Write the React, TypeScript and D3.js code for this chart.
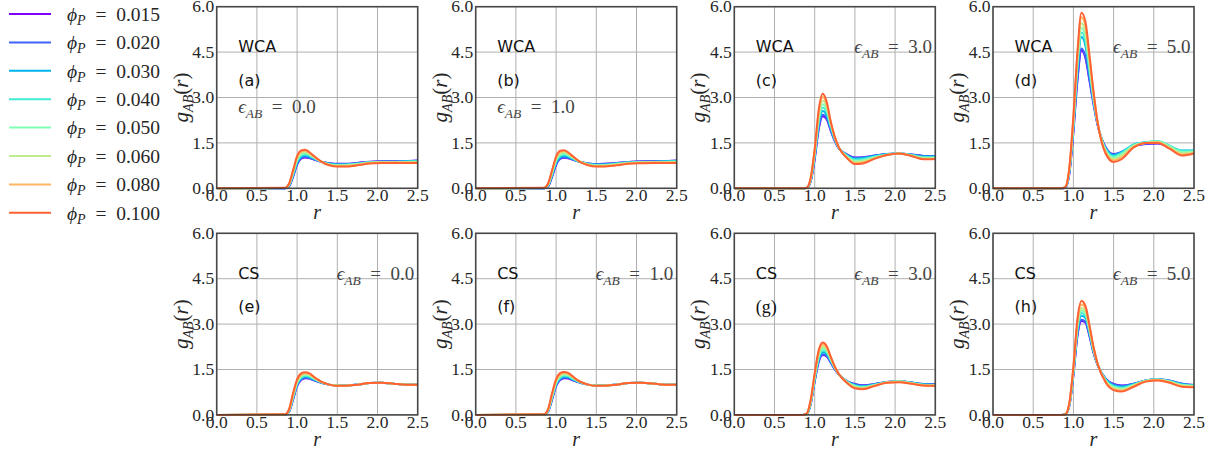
import React from 'react';
import * as d3 from 'd3';

// r grid shared by all series
const R = [0, 0.85, 0.9, 0.95, 1.0, 1.05, 1.1, 1.15, 1.2, 1.25, 1.3, 1.4, 1.5, 1.6, 1.75, 1.9, 2.05, 2.2, 2.35, 2.5];

const PHI_LABELS = ['0.015', '0.020', '0.030', '0.040', '0.050', '0.060', '0.080', '0.100'];
const X_TICKS = [0, 0.5, 1.0, 1.5, 2.0, 2.5];
const Y_TICKS = [0, 1.5, 3.0, 4.5, 6.0];

// (a) WCA, eps = 0.0
const PANEL_A = [
  [0, 0, 0.06, 0.38, 0.78, 0.98, 1.02, 1.0, 0.96, 0.92, 0.88, 0.83, 0.81, 0.81, 0.84, 0.88, 0.89, 0.89, 0.9, 0.92],
  [0, 0, 0.07, 0.4, 0.8, 0.99, 1.04, 1.01, 0.97, 0.92, 0.88, 0.83, 0.8, 0.8, 0.83, 0.87, 0.89, 0.89, 0.9, 0.91],
  [0, 0, 0.08, 0.43, 0.85, 1.04, 1.08, 1.05, 0.99, 0.93, 0.88, 0.81, 0.79, 0.79, 0.82, 0.86, 0.88, 0.88, 0.89, 0.9],
  [0, 0.01, 0.1, 0.47, 0.89, 1.08, 1.12, 1.08, 1.01, 0.94, 0.88, 0.8, 0.77, 0.78, 0.81, 0.86, 0.87, 0.87, 0.88, 0.89],
  [0, 0.01, 0.11, 0.5, 0.93, 1.12, 1.16, 1.11, 1.03, 0.95, 0.88, 0.79, 0.76, 0.76, 0.8, 0.85, 0.87, 0.86, 0.87, 0.88],
  [0, 0.01, 0.12, 0.53, 0.97, 1.16, 1.2, 1.14, 1.05, 0.96, 0.88, 0.78, 0.75, 0.75, 0.79, 0.84, 0.86, 0.86, 0.86, 0.87],
  [0, 0.01, 0.14, 0.57, 1.02, 1.21, 1.24, 1.17, 1.07, 0.97, 0.88, 0.77, 0.73, 0.73, 0.77, 0.83, 0.85, 0.85, 0.85, 0.85],
  [0, 0.02, 0.16, 0.6, 1.06, 1.25, 1.27, 1.2, 1.09, 0.98, 0.88, 0.76, 0.72, 0.72, 0.76, 0.82, 0.84, 0.84, 0.84, 0.84],
];

// (b) WCA, eps = 1.0
const PANEL_B = [
  [0, 0, 0.06, 0.38, 0.77, 0.97, 1.01, 0.99, 0.95, 0.91, 0.87, 0.82, 0.8, 0.81, 0.84, 0.87, 0.89, 0.89, 0.9, 0.92],
  [0, 0, 0.07, 0.4, 0.79, 0.98, 1.03, 1.0, 0.96, 0.91, 0.87, 0.82, 0.8, 0.8, 0.83, 0.87, 0.88, 0.89, 0.9, 0.91],
  [0, 0, 0.08, 0.43, 0.84, 1.03, 1.07, 1.04, 0.98, 0.92, 0.87, 0.81, 0.78, 0.79, 0.82, 0.86, 0.88, 0.88, 0.89, 0.9],
  [0, 0.01, 0.1, 0.47, 0.88, 1.07, 1.11, 1.07, 1.0, 0.93, 0.87, 0.8, 0.77, 0.77, 0.81, 0.85, 0.87, 0.87, 0.88, 0.89],
  [0, 0.01, 0.11, 0.5, 0.92, 1.11, 1.15, 1.1, 1.02, 0.94, 0.87, 0.79, 0.76, 0.76, 0.8, 0.84, 0.86, 0.86, 0.87, 0.88],
  [0, 0.01, 0.12, 0.53, 0.96, 1.15, 1.19, 1.13, 1.04, 0.95, 0.87, 0.78, 0.74, 0.75, 0.79, 0.83, 0.85, 0.86, 0.86, 0.87],
  [0, 0.01, 0.14, 0.57, 1.01, 1.2, 1.23, 1.16, 1.06, 0.96, 0.87, 0.77, 0.73, 0.73, 0.77, 0.82, 0.84, 0.85, 0.85, 0.85],
  [0, 0.02, 0.16, 0.6, 1.05, 1.24, 1.26, 1.19, 1.08, 0.97, 0.87, 0.76, 0.72, 0.72, 0.76, 0.81, 0.83, 0.84, 0.84, 0.84],
];

// (c) WCA, eps = 3.0
const PANEL_C = [
  [0, 0, 0.01, 0.22, 0.95, 1.95, 2.38, 2.27, 1.9, 1.56, 1.32, 1.12, 1.02, 1.03, 1.08, 1.13, 1.15, 1.12, 1.07, 1.07],
  [0, 0, 0.01, 0.24, 1.0, 2.0, 2.43, 2.31, 1.92, 1.57, 1.32, 1.11, 1.01, 1.02, 1.08, 1.13, 1.15, 1.12, 1.07, 1.06],
  [0, 0, 0.01, 0.26, 1.05, 2.1, 2.55, 2.4, 1.98, 1.6, 1.33, 1.1, 0.98, 1.0, 1.07, 1.13, 1.15, 1.11, 1.05, 1.05],
  [0, 0, 0.01, 0.27, 1.1, 2.2, 2.67, 2.5, 2.04, 1.63, 1.34, 1.08, 0.95, 0.97, 1.05, 1.12, 1.15, 1.1, 1.03, 1.03],
  [0, 0, 0.02, 0.29, 1.15, 2.3, 2.78, 2.59, 2.09, 1.65, 1.35, 1.06, 0.91, 0.93, 1.03, 1.11, 1.15, 1.09, 1.01, 1.01],
  [0, 0, 0.02, 0.31, 1.2, 2.4, 2.89, 2.68, 2.13, 1.67, 1.35, 1.04, 0.87, 0.89, 1.01, 1.1, 1.15, 1.08, 0.99, 0.99],
  [0, 0, 0.02, 0.33, 1.25, 2.5, 3.02, 2.77, 2.17, 1.69, 1.35, 1.02, 0.83, 0.85, 0.99, 1.1, 1.15, 1.08, 0.97, 0.98],
  [0, 0, 0.02, 0.35, 1.3, 2.6, 3.12, 2.85, 2.2, 1.7, 1.35, 1.0, 0.8, 0.82, 0.98, 1.1, 1.15, 1.07, 0.96, 0.97],
];

// (d) WCA, eps = 5.0
const PANEL_D = [
  [0, 0, 0.02, 0.48, 1.85, 3.55, 4.55, 4.3, 3.55, 2.78, 2.1, 1.36, 1.13, 1.2, 1.4, 1.46, 1.48, 1.35, 1.22, 1.22],
  [0, 0, 0.02, 0.5, 1.9, 3.6, 4.62, 4.35, 3.6, 2.8, 2.12, 1.36, 1.12, 1.2, 1.41, 1.47, 1.49, 1.36, 1.22, 1.22],
  [0, 0, 0.03, 0.55, 2.0, 3.9, 5.0, 4.7, 3.8, 2.9, 2.15, 1.32, 1.1, 1.2, 1.45, 1.52, 1.55, 1.4, 1.25, 1.25],
  [0, 0, 0.03, 0.58, 2.08, 4.0, 5.15, 4.85, 3.9, 2.95, 2.17, 1.3, 1.06, 1.17, 1.44, 1.52, 1.56, 1.4, 1.24, 1.25],
  [0, 0, 0.04, 0.61, 2.15, 4.1, 5.3, 5.0, 4.0, 3.0, 2.18, 1.27, 1.01, 1.13, 1.42, 1.51, 1.55, 1.38, 1.2, 1.22],
  [0, 0, 0.04, 0.64, 2.22, 4.25, 5.45, 5.15, 4.15, 3.07, 2.19, 1.23, 0.97, 1.08, 1.4, 1.5, 1.53, 1.35, 1.16, 1.2],
  [0, 0, 0.05, 0.67, 2.3, 4.4, 5.65, 5.35, 4.3, 3.15, 2.2, 1.19, 0.92, 1.02, 1.37, 1.5, 1.52, 1.32, 1.12, 1.17],
  [0, 0, 0.05, 0.7, 2.4, 4.5, 5.8, 5.5, 4.4, 3.2, 2.2, 1.15, 0.87, 0.96, 1.35, 1.5, 1.5, 1.3, 1.08, 1.15],
];

// (e) CS, eps = 0.0
const PANEL_E = [
  [0, 0, 0.1, 0.5, 0.95, 1.15, 1.21, 1.2, 1.15, 1.1, 1.06, 1.0, 0.97, 0.97, 1.0, 1.05, 1.06, 1.03, 1.0, 1.0],
  [0, 0, 0.11, 0.52, 0.97, 1.17, 1.23, 1.21, 1.16, 1.11, 1.06, 1.0, 0.97, 0.97, 1.0, 1.05, 1.06, 1.03, 1.0, 1.0],
  [0, 0, 0.12, 0.55, 1.0, 1.2, 1.26, 1.24, 1.18, 1.12, 1.07, 1.0, 0.97, 0.97, 1.0, 1.05, 1.06, 1.03, 1.0, 1.0],
  [0, 0.01, 0.13, 0.58, 1.03, 1.23, 1.29, 1.27, 1.2, 1.13, 1.08, 1.0, 0.97, 0.97, 1.0, 1.05, 1.06, 1.03, 1.0, 1.0],
  [0, 0.01, 0.14, 0.61, 1.06, 1.26, 1.32, 1.3, 1.22, 1.15, 1.08, 1.0, 0.97, 0.96, 1.0, 1.05, 1.06, 1.03, 1.0, 1.0],
  [0, 0.01, 0.15, 0.64, 1.09, 1.29, 1.35, 1.32, 1.24, 1.16, 1.09, 1.0, 0.97, 0.96, 1.0, 1.05, 1.06, 1.03, 1.0, 1.0],
  [0, 0.01, 0.17, 0.68, 1.13, 1.33, 1.38, 1.35, 1.26, 1.17, 1.09, 1.0, 0.96, 0.96, 1.0, 1.05, 1.06, 1.03, 1.0, 1.0],
  [0, 0.02, 0.19, 0.72, 1.17, 1.37, 1.41, 1.38, 1.28, 1.18, 1.1, 1.0, 0.96, 0.96, 1.0, 1.05, 1.06, 1.03, 1.0, 1.0],
];

// (f) CS, eps = 1.0
const PANEL_F = [
  [0, 0, 0.1, 0.5, 0.95, 1.15, 1.21, 1.2, 1.15, 1.1, 1.06, 1.0, 0.97, 0.97, 1.0, 1.05, 1.06, 1.04, 1.0, 1.0],
  [0, 0, 0.11, 0.52, 0.97, 1.17, 1.23, 1.22, 1.16, 1.11, 1.06, 1.0, 0.97, 0.97, 1.0, 1.05, 1.06, 1.04, 1.0, 1.0],
  [0, 0, 0.12, 0.55, 1.0, 1.2, 1.26, 1.25, 1.18, 1.12, 1.07, 1.0, 0.97, 0.97, 1.0, 1.05, 1.06, 1.04, 1.0, 1.0],
  [0, 0.01, 0.13, 0.58, 1.03, 1.23, 1.29, 1.28, 1.2, 1.14, 1.08, 1.0, 0.97, 0.97, 1.0, 1.05, 1.06, 1.04, 1.0, 1.0],
  [0, 0.01, 0.14, 0.61, 1.06, 1.27, 1.33, 1.31, 1.23, 1.15, 1.08, 1.0, 0.97, 0.96, 1.0, 1.05, 1.06, 1.04, 1.0, 1.0],
  [0, 0.01, 0.15, 0.64, 1.1, 1.3, 1.36, 1.33, 1.25, 1.16, 1.09, 1.0, 0.96, 0.96, 1.0, 1.05, 1.06, 1.04, 1.0, 1.0],
  [0, 0.01, 0.17, 0.68, 1.14, 1.34, 1.39, 1.36, 1.27, 1.17, 1.09, 1.0, 0.96, 0.96, 1.0, 1.05, 1.06, 1.04, 1.0, 1.0],
  [0, 0.02, 0.19, 0.72, 1.18, 1.38, 1.42, 1.39, 1.29, 1.18, 1.1, 1.0, 0.96, 0.96, 1.0, 1.05, 1.06, 1.04, 1.0, 1.0],
];

// (g) CS, eps = 3.0
const PANEL_G = [
  [0, 0, 0.02, 0.35, 1.1, 1.75, 1.98, 1.93, 1.72, 1.5, 1.33, 1.12, 1.02, 0.98, 1.02, 1.09, 1.11, 1.07, 1.02, 1.01],
  [0, 0, 0.02, 0.36, 1.12, 1.77, 2.0, 1.95, 1.73, 1.51, 1.33, 1.12, 1.01, 0.97, 1.02, 1.09, 1.11, 1.07, 1.02, 1.01],
  [0, 0, 0.02, 0.38, 1.16, 1.83, 2.07, 2.01, 1.77, 1.53, 1.34, 1.11, 0.99, 0.95, 1.01, 1.09, 1.11, 1.07, 1.01, 1.0],
  [0, 0, 0.03, 0.4, 1.2, 1.89, 2.13, 2.06, 1.8, 1.55, 1.34, 1.1, 0.97, 0.93, 1.0, 1.08, 1.11, 1.06, 1.0, 0.99],
  [0, 0, 0.03, 0.42, 1.24, 1.95, 2.19, 2.11, 1.83, 1.56, 1.35, 1.09, 0.95, 0.91, 0.99, 1.08, 1.1, 1.05, 0.99, 0.98],
  [0, 0, 0.03, 0.44, 1.28, 2.01, 2.25, 2.16, 1.86, 1.57, 1.35, 1.08, 0.93, 0.89, 0.98, 1.07, 1.1, 1.05, 0.98, 0.97],
  [0, 0, 0.04, 0.47, 1.33, 2.08, 2.33, 2.22, 1.89, 1.58, 1.35, 1.07, 0.9, 0.87, 0.97, 1.07, 1.09, 1.04, 0.97, 0.96],
  [0, 0, 0.04, 0.5, 1.38, 2.14, 2.39, 2.27, 1.92, 1.6, 1.35, 1.06, 0.88, 0.85, 0.96, 1.06, 1.08, 1.03, 0.97, 0.96],
];

// (h) CS, eps = 5.0
const PANEL_H = [
  [0, 0, 0.01, 0.3, 1.3, 2.6, 3.1, 3.05, 2.6, 2.05, 1.65, 1.2, 1.02, 0.97, 1.03, 1.14, 1.18, 1.13, 1.03, 0.99],
  [0, 0, 0.01, 0.31, 1.32, 2.63, 3.14, 3.08, 2.62, 2.06, 1.65, 1.2, 1.01, 0.96, 1.03, 1.14, 1.18, 1.13, 1.03, 0.99],
  [0, 0, 0.01, 0.33, 1.38, 2.75, 3.28, 3.2, 2.7, 2.1, 1.67, 1.18, 0.98, 0.93, 1.02, 1.14, 1.18, 1.12, 1.02, 0.98],
  [0, 0, 0.01, 0.34, 1.42, 2.83, 3.37, 3.28, 2.75, 2.13, 1.68, 1.16, 0.95, 0.9, 1.0, 1.13, 1.17, 1.11, 1.0, 0.97],
  [0, 0, 0.02, 0.36, 1.46, 2.9, 3.45, 3.35, 2.8, 2.16, 1.69, 1.14, 0.92, 0.87, 0.99, 1.13, 1.17, 1.1, 0.99, 0.96],
  [0, 0, 0.02, 0.37, 1.5, 2.97, 3.53, 3.42, 2.85, 2.19, 1.7, 1.12, 0.89, 0.84, 0.97, 1.12, 1.16, 1.09, 0.97, 0.95],
  [0, 0, 0.02, 0.39, 1.55, 3.07, 3.65, 3.52, 2.91, 2.22, 1.7, 1.1, 0.85, 0.8, 0.95, 1.11, 1.15, 1.07, 0.95, 0.93],
  [0, 0, 0.02, 0.41, 1.6, 3.16, 3.76, 3.6, 2.96, 2.25, 1.7, 1.08, 0.82, 0.77, 0.93, 1.1, 1.14, 1.06, 0.93, 0.91],
];

const MODELS = ['WCA', 'WCA', 'WCA', 'WCA', 'CS', 'CS', 'CS', 'CS'];
const TAGS = ['(a)', '(b)', '(c)', '(d)', '(e)', '(f)', '(g)', '(h)'];
const EPS = ['0.0', '1.0', '3.0', '5.0', '0.0', '1.0', '3.0', '5.0'];
const PANEL_DATA = [PANEL_A, PANEL_B, PANEL_C, PANEL_D, PANEL_E, PANEL_F, PANEL_G, PANEL_H];

// layout
const LEFTS = [216.7, 475.7, 734.3, 993];
const TOPS = [6.7, 233.3];
const PW = 201;
const PH = 181.6;

const SERIF = '"Liberation Serif", "DejaVu Serif", serif';
const SANS = '"DejaVu Sans", sans-serif';

// matplotlib "rainbow" colormap
function rainbow(t: number): string {
  const c = (v: number) => Math.round(Math.max(0, Math.min(1, v)) * 255);
  const r = Math.abs(2 * t - 0.5);
  const g = Math.sin(Math.PI * t);
  const b = Math.cos((Math.PI * t) / 2);
  return `rgb(${c(r)},${c(g)},${c(b)})`;
}
const COLORS = PHI_LABELS.map((_, i) => rainbow(i / 8));

function Panel({ idx }: { idx: number }) {
  const col = idx % 4;
  const row = Math.floor(idx / 4);
  const left = LEFTS[col];
  const top = TOPS[row];
  const x = d3.scaleLinear().domain([0, 2.5]).range([left, left + PW]);
  const y = d3.scaleLinear().domain([0, 6]).range([top + PH, top]);
  const line = d3
    .line<number>()
    .x((_, i) => x(R[i]))
    .y((d) => y(d))
    .curve(d3.curveMonotoneX);
  const data = PANEL_DATA[idx];
  const fmt = d3.format('.1f');
  const epsRight = idx !== 0 && idx !== 1;
  const clipId = `clip${idx}`;
  return (
    <g>
      <defs>
        <clipPath id={clipId}>
          <rect x={left} y={top - 3} width={PW} height={PH + 6} />
        </clipPath>
      </defs>
      {/* grid */}
      {X_TICKS.map((t) => (
        <line key={'gx' + t} x1={x(t)} x2={x(t)} y1={top} y2={top + PH} stroke="#b0b0b0" strokeWidth={1} />
      ))}
      {Y_TICKS.map((t) => (
        <line key={'gy' + t} x1={left} x2={left + PW} y1={y(t)} y2={y(t)} stroke="#b0b0b0" strokeWidth={1} />
      ))}
      {/* curves */}
      <g clipPath={`url(#${clipId})`}>
        {data.map((s, i) => (
          <path key={i} d={line(s) || ''} fill="none" stroke={COLORS[i]} strokeWidth={2} />
        ))}
      </g>
      {/* spines */}
      <rect x={left} y={top} width={PW} height={PH} fill="none" stroke="#333" strokeOpacity={0.85} strokeWidth={1.6} />
      {/* tick labels */}
      {X_TICKS.map((t) => (
        <text key={'tx' + t} x={x(t)} y={top + PH + 13} textAnchor="middle" fontFamily={SERIF} fontSize={17.5} fill="#262626">
          {fmt(t)}
        </text>
      ))}
      {Y_TICKS.map((t) => (
        <text key={'ty' + t} x={left - 2.5} y={y(t)} dy="0.33em" textAnchor="end" fontFamily={SERIF} fontSize={17.5} fill="#262626">
          {fmt(t)}
        </text>
      ))}
      {/* axis labels */}
      <text x={left + PW / 2} y={top + PH + 31} textAnchor="middle" fontFamily={SERIF} fontSize={20} fontStyle="italic" fill="#262626">
        r
      </text>
      <text
        transform={`translate(${left - 29},${top + PH / 2}) rotate(-90)`}
        textAnchor="middle"
        fontFamily={SERIF}
        fontSize={21}
        fill="#262626"
      >
        <tspan fontStyle="italic">g</tspan>
        <tspan fontStyle="italic" fontSize={14} dy={5}>AB</tspan>
        <tspan dy={-5}>(</tspan>
        <tspan fontStyle="italic">r</tspan>
        <tspan>)</tspan>
      </text>
      {/* annotations */}
      <text x={left + 21.5} y={top + 40} dy="0.35em" fontFamily={SANS} fontSize={16} fill="#111">
        {MODELS[idx]}
      </text>
      <text
        x={left + 21.5}
        y={top + 73.5}
        dy="0.35em"
        fontFamily={idx === 6 ? SERIF : SANS}
        fontSize={idx === 6 ? 18 : 16}
        fill="#111"
      >
        {TAGS[idx]}
      </text>
      <text
        x={epsRight ? left + 120 : left + 21.5}
        y={epsRight ? top + 40 : top + 100}
        dy="0.35em"
        fontFamily={SERIF}
        fontSize={19}
        fill="#444"
      >
        <tspan fontStyle="italic">ϵ</tspan>
        <tspan fontStyle="italic" fontSize={13.5} dy={5}>AB</tspan>
        <tspan dy={-5}>{'\u2002=\u2002' + EPS[idx]}</tspan>
      </text>
    </g>
  );
}

function Legend() {
  return (
    <g>
      {PHI_LABELS.map((p, i) => {
        const yy = 14 + i * 28.4;
        return (
          <g key={p}>
            <line x1={9} x2={51} y1={yy} y2={yy} stroke={COLORS[i]} strokeWidth={2} />
            <text x={67} y={yy} dy="0.35em" fontFamily={SERIF} fontSize={19.5} fill="#262626">
              <tspan fontStyle="italic">ϕ</tspan>
              <tspan fontStyle="italic" fontSize={14} dy={4}>P</tspan>
              <tspan dy={-4}>{'\u2002=\u2002' + p}</tspan>
            </text>
          </g>
        );
      })}
    </g>
  );
}

export default function App() {
  return (
    <svg
      width={1216}
      height={450}
      style={{ position: 'absolute', left: 0, top: 0, background: '#fff' }}
    >
      <rect x={0} y={0} width={1216} height={450} fill="#fff" />
      <Legend />
      {PANEL_DATA.map((_, i) => (
        <Panel key={i} idx={i} />
      ))}
    </svg>
  );
}
